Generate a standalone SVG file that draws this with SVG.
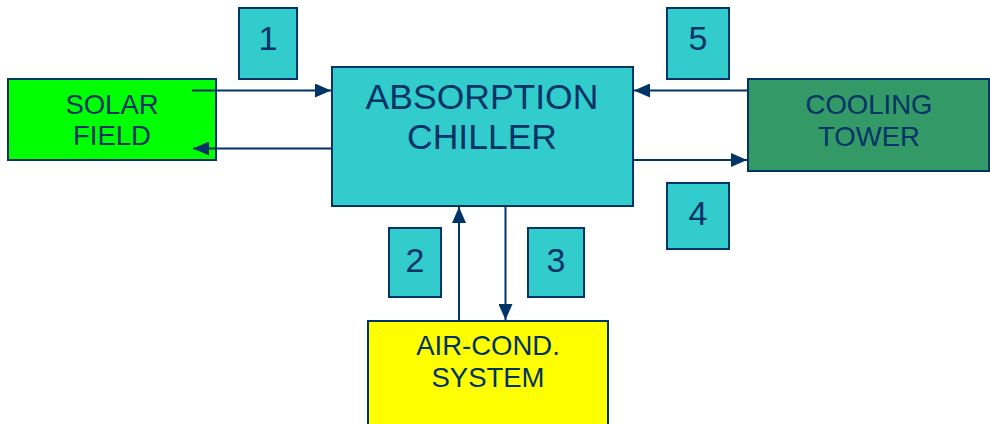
<svg xmlns="http://www.w3.org/2000/svg" width="990" height="424" viewBox="0 0 990 424">
<style>
.box{stroke:#003366;stroke-width:2}
.t{font-family:"Liberation Sans",Arial,sans-serif;fill:#003366;text-anchor:middle}
.lbl{font-size:27.5px}
.big{font-size:35.5px}
.num{font-size:34px}
.c{stroke:#003366;stroke-width:2;fill:none;marker-end:url(#ah)}
</style>
<defs>
<marker id="ah" viewBox="0 0 16 14" refX="16" refY="7" markerWidth="16" markerHeight="14" markerUnits="userSpaceOnUse" orient="auto">
<path d="M0,0 L16,7 L0,14 Z" fill="#003366"/>
</marker>
</defs>
<rect width="990" height="424" fill="#ffffff"/>
<g id="solar-field">
<rect class="box" x="8" y="79" width="208" height="81" fill="#00FF00"/>
<text class="t lbl" x="112" y="114">SOLAR</text>
<text class="t lbl" x="112" y="145">FIELD</text>
</g>
<g id="absorption-chiller">
<rect class="box" x="332" y="67" width="301" height="139" fill="#33CCCC"/>
<text class="t big" x="482" y="109">ABSORPTION</text>
<text class="t big" x="482" y="149">CHILLER</text>
</g>
<g id="cooling-tower">
<rect class="box" x="748" y="79" width="241" height="92" fill="#339966"/>
<text class="t lbl" x="869" y="114">COOLING</text>
<text class="t lbl" x="869" y="145.5">TOWER</text>
</g>
<g id="air-cond-system">
<rect class="box" x="368" y="321" width="240" height="110" fill="#FFFF00"/>
<text class="t lbl" x="488" y="355">AIR-COND.</text>
<text class="t lbl" x="488" y="387">SYSTEM</text>
</g>
<g id="label-1">
<rect class="box" x="239" y="8" width="58" height="71" fill="#33CCCC"/>
<text class="t num" x="268" y="50">1</text>
</g>
<g id="label-2">
<rect class="box" x="389" y="228" width="52" height="69" fill="#33CCCC"/>
<text class="t num" x="415" y="272">2</text>
</g>
<g id="label-3">
<rect class="box" x="528" y="228" width="56" height="69" fill="#33CCCC"/>
<text class="t num" x="556" y="272">3</text>
</g>
<g id="label-4">
<rect class="box" x="667" y="183" width="62" height="66" fill="#33CCCC"/>
<text class="t num" x="698" y="225">4</text>
</g>
<g id="label-5">
<rect class="box" x="667" y="8" width="62" height="71" fill="#33CCCC"/>
<text class="t num" x="698" y="50">5</text>
</g>
<g id="connectors">
<line class="c" x1="192" y1="90.5" x2="331" y2="90.5"/>
<line class="c" x1="332" y1="148.5" x2="193" y2="148.5"/>
<line class="c" x1="748" y1="90.5" x2="634" y2="90.5"/>
<line class="c" x1="633" y1="160" x2="747" y2="160"/>
<line class="c" x1="459" y1="321" x2="459" y2="207"/>
<line class="c" x1="505.5" y1="206" x2="505.5" y2="320"/>
</g>
</svg>
